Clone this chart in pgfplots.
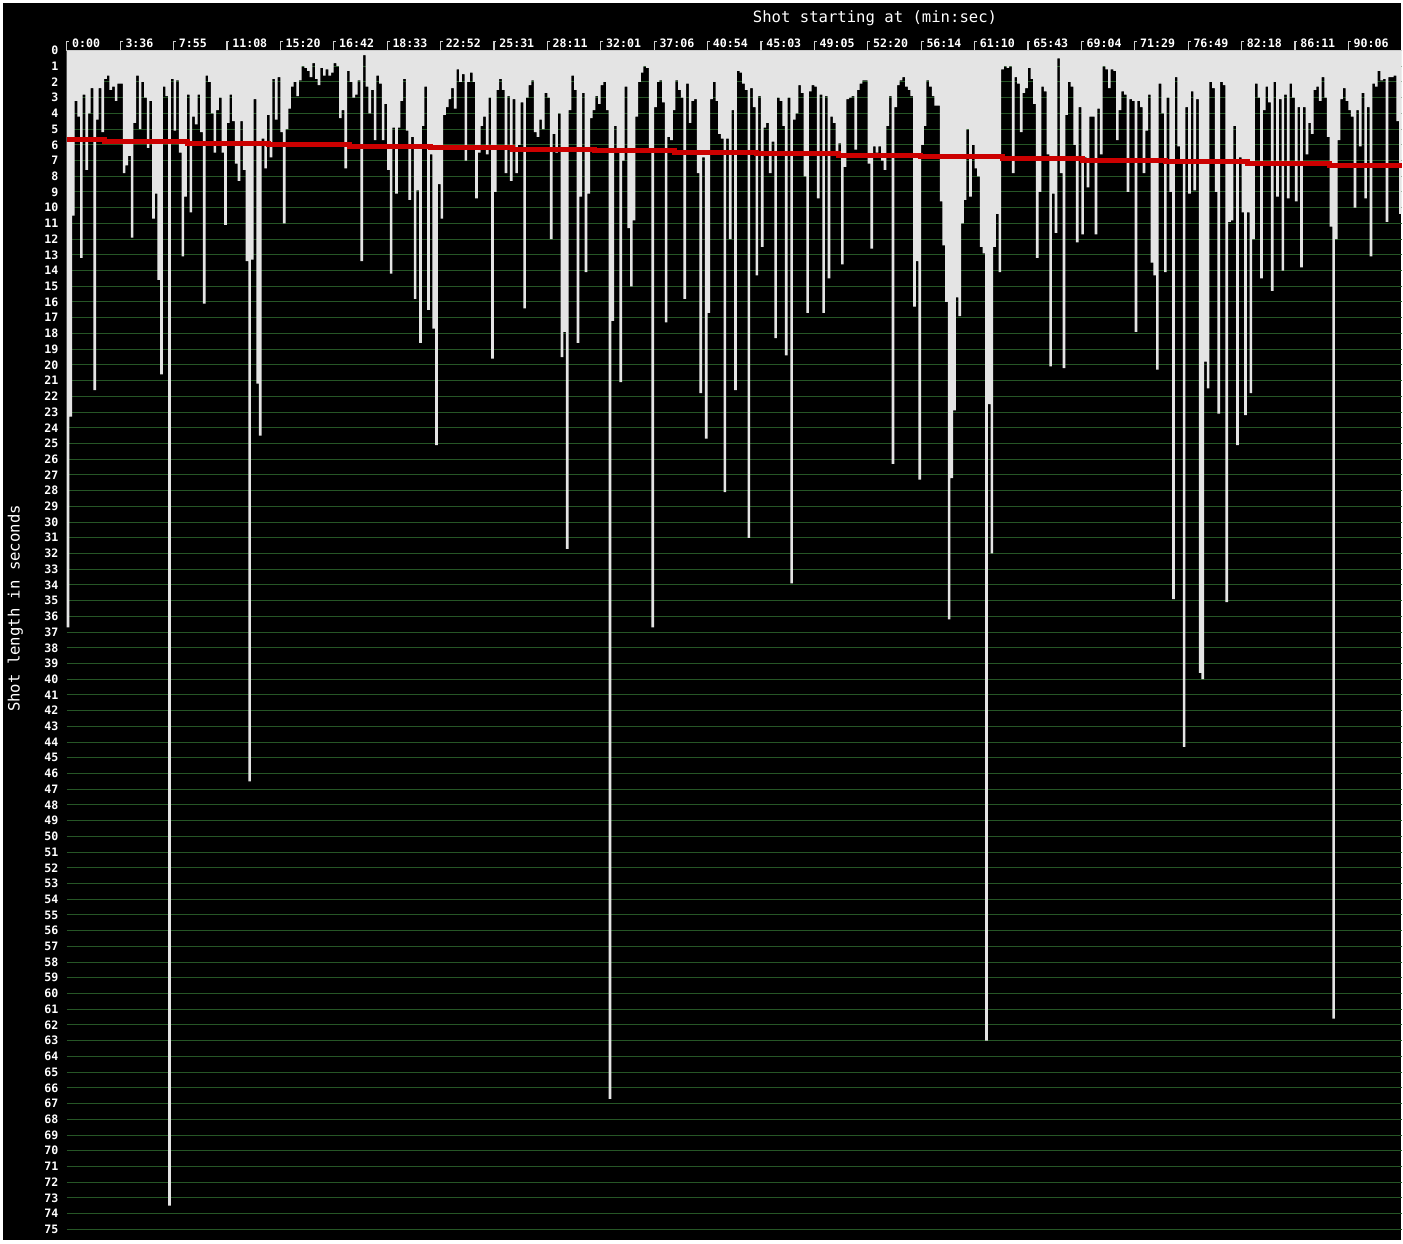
\documentclass[border=0pt]{standalone}
\usepackage{fontspec}
\usepackage{pgfplots}
\pgfplotsset{compat=1.18}
\newfontfamily\dvm{DejaVu Sans Mono}
\definecolor{gridgreen}{RGB}{38,86,38}
\definecolor{barwhite}{RGB}{228,228,228}
\definecolor{avgred}{RGB}{204,0,0}
\begin{document}
\begin{tikzpicture}[x=0.5pt,y=0.5pt]
\fill[white] (0,0) rectangle (1403,-1243);
\fill[black] (3,-3) rectangle (1401,-1240);
\begin{axis}[
  at={(33.35pt,-25.25pt)}, anchor=north west,
  scale only axis, width=667.5pt, height=589.4pt,
  xmin=0, xmax=500, ymin=0, ymax=75,
  y dir=reverse,
  axis line style={draw=none},
  clip=false,
  /pgf/number format/assume math mode=true,
  xtick={0,20,...,480},
  xticklabels={0:00,3:36,7:55,11:08,15:20,16:42,18:33,22:52,25:31,28:11,32:01,37:06,40:54,45:03,49:05,52:20,56:14,61:10,65:43,69:04,71:29,76:49,82:18,86:11,90:06},
  ytick={0,1,...,75},
  xtick pos=upper, ytick pos=left,
  xticklabel pos=upper,
  ymajorgrids, grid style={gridgreen, line width=0.5pt},
  major tick length=0pt,
  xtick style={draw=none},
  ytick style={draw=none},
  xticklabel style={font=\dvm\bfseries\fontsize{5.8}{6}\selectfont, text=white, anchor=south west, inner sep=0pt, xshift=2.5pt, yshift=1pt},
  yticklabel style={font=\dvm\bfseries\fontsize{5.8}{6}\selectfont, text=white, anchor=east, inner sep=0pt, xshift=-4pt},
  yticklabel={\pgfmathprintnumber[assume math mode=true,int detect]{\tick}},
]
\addplot[const plot mark left, fill=barwhite, draw=none] table[row sep=\\, header=false, x expr=\coordindex, y index=0] {
36.7\\23.3\\10.5\\3.2\\4.2\\13.2\\2.8\\7.6\\4.0\\2.4\\
21.6\\4.4\\2.4\\5.2\\1.8\\1.6\\2.5\\2.3\\3.2\\2.1\\
2.1\\7.8\\7.3\\6.7\\11.9\\4.6\\1.6\\5.0\\2.0\\3.0\\
6.2\\3.2\\10.7\\9.1\\14.6\\20.6\\2.3\\2.9\\73.5\\1.8\\
5.1\\1.9\\6.5\\13.1\\9.3\\2.8\\10.3\\4.2\\4.7\\2.8\\
5.2\\16.1\\1.6\\2.0\\4.0\\6.5\\3.8\\3.0\\6.5\\11.1\\
4.6\\2.8\\4.5\\7.2\\8.3\\4.5\\7.6\\13.4\\46.5\\13.3\\
3.1\\21.2\\24.5\\5.6\\7.5\\4.1\\6.8\\1.8\\4.4\\1.7\\
5.2\\11.0\\5.0\\3.7\\2.3\\2.0\\2.9\\1.9\\1.0\\1.1\\
1.3\\1.7\\0.8\\1.8\\2.2\\1.1\\1.6\\1.2\\1.6\\1.4\\
0.8\\1.0\\4.3\\3.8\\7.5\\1.3\\2.0\\3.0\\2.8\\1.9\\
13.4\\0.3\\2.3\\4.0\\2.5\\5.7\\1.6\\2.1\\5.7\\3.4\\
7.6\\14.2\\4.9\\9.1\\4.9\\3.2\\1.8\\5.1\\9.5\\5.5\\
15.8\\8.9\\18.6\\4.8\\2.3\\16.5\\6.6\\17.7\\25.1\\8.5\\
10.7\\4.1\\3.6\\3.1\\2.4\\3.7\\1.2\\2.0\\1.5\\7.0\\
2.0\\1.4\\2.0\\9.4\\6.5\\4.8\\4.2\\6.6\\3.0\\19.6\\
9.0\\2.5\\1.8\\2.5\\7.8\\2.9\\8.3\\3.1\\7.8\\6.0\\
3.3\\16.4\\3.0\\2.2\\1.9\\5.2\\5.5\\4.4\\5.0\\2.7\\
3.0\\12.0\\5.3\\6.5\\4.0\\19.5\\17.9\\31.7\\3.8\\1.6\\
2.5\\18.6\\9.3\\2.7\\14.1\\9.1\\4.3\\3.8\\2.9\\3.4\\
2.2\\2.0\\3.8\\66.7\\17.2\\4.8\\6.5\\21.1\\7.0\\2.3\\
11.3\\15.0\\10.8\\4.2\\2.0\\1.4\\1.0\\1.1\\6.5\\36.7\\
3.6\\2.0\\1.9\\3.3\\17.3\\5.5\\5.7\\3.8\\1.9\\2.5\\
3.0\\15.8\\2.1\\4.6\\3.2\\3.1\\7.8\\21.8\\6.8\\24.7\\
16.7\\3.1\\2.0\\3.2\\5.3\\5.6\\28.1\\5.6\\12.0\\3.8\\
21.6\\1.3\\1.4\\2.1\\2.5\\31.0\\2.4\\3.6\\14.3\\2.9\\
12.5\\4.9\\4.6\\7.8\\5.8\\18.3\\3.0\\3.2\\4.8\\19.4\\
3.0\\33.9\\4.4\\4.0\\2.2\\2.7\\8.0\\16.7\\2.6\\2.2\\
2.3\\9.4\\2.8\\16.7\\2.9\\14.5\\4.2\\4.6\\6.5\\5.9\\
13.6\\7.4\\3.1\\3.0\\2.9\\6.3\\2.5\\2.1\\1.9\\1.9\\
7.2\\12.6\\6.1\\6.5\\6.1\\7.0\\7.6\\4.8\\2.9\\26.3\\
3.6\\2.2\\1.9\\1.7\\2.3\\2.5\\2.9\\16.3\\13.4\\27.3\\
6.0\\4.8\\1.9\\2.3\\2.9\\3.5\\3.5\\9.6\\12.4\\16.0\\
36.2\\27.2\\22.9\\15.7\\16.9\\11.0\\9.5\\5.0\\9.3\\6.0\\
7.5\\8.0\\12.5\\12.9\\63.0\\22.5\\32.0\\12.5\\10.4\\14.1\\
1.2\\1.0\\1.1\\1.0\\7.8\\1.7\\2.1\\5.2\\2.7\\2.4\\
1.1\\1.8\\3.4\\13.2\\9.0\\2.3\\2.6\\6.6\\20.1\\9.1\\
11.6\\0.5\\7.8\\20.2\\4.1\\2.0\\2.3\\6.0\\12.2\\3.6\\
11.7\\6.8\\8.7\\4.2\\4.2\\11.7\\3.7\\6.6\\1.0\\1.2\\
2.4\\1.2\\1.3\\5.7\\3.8\\2.6\\2.8\\9.0\\3.1\\3.2\\
17.9\\3.2\\3.6\\7.8\\5.1\\2.8\\13.5\\14.3\\20.3\\2.1\\
4.0\\14.1\\3.0\\9.0\\34.9\\1.7\\6.1\\6.9\\44.3\\3.6\\
9.1\\2.6\\8.9\\3.1\\39.6\\40.0\\19.8\\21.5\\2.0\\2.4\\
9.0\\23.1\\2.0\\2.2\\35.1\\10.9\\10.8\\4.8\\25.1\\6.8\\
10.3\\23.2\\10.3\\21.8\\12.0\\2.1\\3.0\\14.5\\3.8\\2.3\\
3.3\\15.3\\2.0\\9.3\\3.1\\14.0\\2.8\\9.4\\2.1\\3.0\\
9.6\\3.6\\13.8\\3.6\\6.6\\4.6\\5.3\\2.5\\2.3\\3.2\\
1.7\\3.0\\5.5\\11.2\\61.6\\12.0\\5.7\\3.1\\2.4\\3.2\\
3.8\\4.2\\10.0\\3.8\\6.1\\2.7\\9.4\\3.6\\13.1\\2.1\\
2.3\\1.3\\1.9\\1.8\\10.9\\1.7\\1.7\\1.6\\4.5\\10.4\\
10.4\\
} \closedcycle;
\addplot[const plot mark left, avgred, line width=2.5pt] coordinates {(0,5.69) (14.3,5.8) (45.1,5.9) (75.4,6.0) (106.1,6.08) (136.4,6.18) (166.8,6.28) (197.5,6.38) (227.8,6.48) (258.3,6.58) (289,6.68) (319.7,6.77) (350.4,6.88) (380.4,6.98) (411.5,7.09) (442.2,7.2) (472.8,7.32) (500,7.32)};
\draw[white!80!black, line width=0.6pt] (axis cs:0,0) -- (axis cs:500,0);
\pgfplotsinvokeforeach{0,20,40,60,80,100,120,140,160,180,200,220,240,260,280,300,320,340,360,380,400,420,440,460,480}{
  \draw[white!80!black, line width=0.6pt] (axis cs:#1,0) -- ++(0pt,4.5pt) -- ++(1.2pt,0pt);
}
\end{axis}
\node[font=\dvm\fontsize{7.8}{9}\selectfont, text=white, anchor=base, inner sep=0pt] at (875,-22.5) {Shot starting at (min:sec)};
\node[font=\dvm\fontsize{7.8}{9}\selectfont, text=white, rotate=90, anchor=base, inner sep=0pt] at (19.5,-608.5) {Shot length in seconds};
\pgfresetboundingbox
\useasboundingbox (0,0) rectangle (1403,-1243);
\end{tikzpicture}
\end{document}
